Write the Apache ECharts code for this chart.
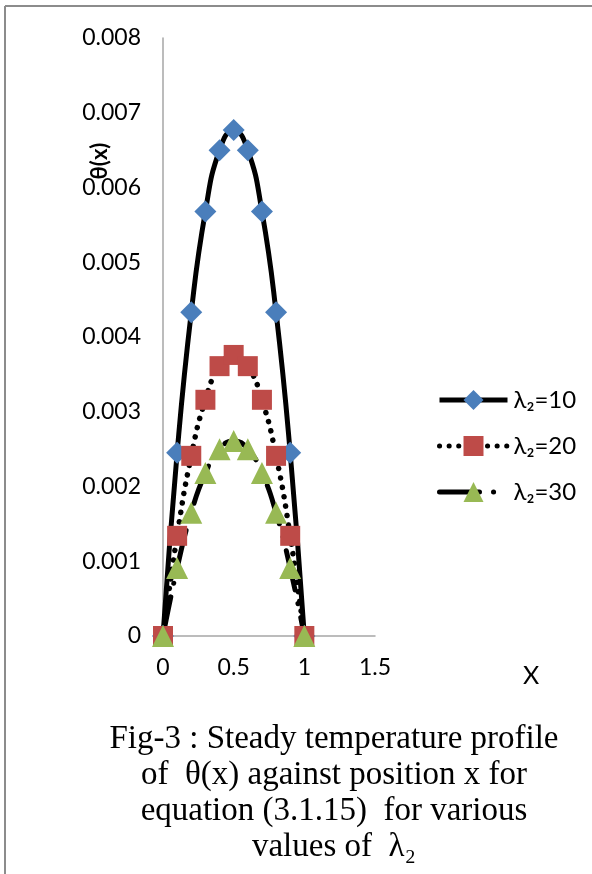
<!DOCTYPE html>
<html>
<head>
<meta charset="utf-8">
<script src="https://cdn.jsdelivr.net/npm/echarts@6/dist/echarts.min.js"></script>
<style>
html,body{margin:0;padding:0;background:#fff;}
#c{width:592px;height:874px;}
</style>
</head>
<body>
<div id="c"></div>
<script>
const xValues = [0, 0.1, 0.2, 0.3, 0.4, 0.5, 0.6, 0.7, 0.8, 0.9, 1.0];
const theta10 = [0, 0.00245, 0.00433, 0.00568, 0.00650, 0.00677, 0.00650, 0.00568, 0.00433, 0.00245, 0];
const theta20 = [0, 0.00134, 0.00241, 0.00316, 0.00361, 0.00376, 0.00361, 0.00316, 0.00241, 0.00134, 0];
const theta30 = [0, 0.00091, 0.00165, 0.00218, 0.00250, 0.00261, 0.00250, 0.00218, 0.00165, 0.00091, 0];
const seriesNames = ['λ₂=10', 'λ₂=20', 'λ₂=30'];
const xTicks = [0, 0.5, 1, 1.5];
const yTicks = [0, 0.001, 0.002, 0.003, 0.004, 0.005, 0.006, 0.007, 0.008];
const captionLines = ['Fig-3 : Steady temperature profile', 'of  θ(x) against position x for', 'equation (3.1.15)  for various', 'values of  λ₂'];

const pair = arr => xValues.map((x, i) => [x, arr[i]]);
const chart = echarts.init(document.getElementById('c'));
const FONT = 'Lato, "Open Sans", sans-serif';

chart.setOption({
  animation: false,
  backgroundColor: '#fff',
  grid: { left: 163, top: 38, right: 217, bottom: 238, containLabel: false },
  xAxis: {
    type: 'value', min: xTicks[0], max: xTicks[xTicks.length - 1], interval: 0.5,
    axisLine: { show: true, lineStyle: { color: '#a6a6a6', width: 1.5 } },
    axisTick: { show: false },
    splitLine: { show: false },
    axisLabel: { color: '#000', fontFamily: FONT, fontSize: 23, margin: 20 }
  },
  yAxis: {
    type: 'value', min: yTicks[0], max: yTicks[yTicks.length - 1], interval: 0.001,
    axisLine: { show: true, lineStyle: { color: '#a6a6a6', width: 1.5 } },
    axisTick: { show: false },
    splitLine: { show: false },
    axisLabel: { color: '#000', fontFamily: FONT, fontSize: 23, margin: 22,
      formatter: v => (v === 0 ? '0' : v.toFixed(3)) }
  },
  legend: {
    orient: 'vertical', left: 432, top: 383,
    itemWidth: 68, itemHeight: 25, itemGap: 22,
    lineStyle: { width: 5 },
    textStyle: { color: '#000', fontFamily: FONT, fontSize: 24, padding: [0, 0, 0, 1] },
    data: seriesNames
  },
  series: [
    {
      name: seriesNames[0], type: 'line', smooth: 0.5, data: pair(theta10),
      symbol: 'diamond', symbolSize: 22,
      itemStyle: { color: '#4a7ebb' },
      lineStyle: { color: '#000', width: 5, type: 'solid' }
    },
    {
      name: seriesNames[1], type: 'line', smooth: 0.5, data: pair(theta20),
      symbol: 'rect', symbolSize: 20,
      itemStyle: { color: '#be4b48' },
      lineStyle: { color: '#000', width: 5.5, type: [0.1, 9.5], cap: 'round' }
    },
    {
      name: seriesNames[2], type: 'line', smooth: 0.5, data: pair(theta30),
      symbol: 'triangle', symbolSize: 22,
      itemStyle: { color: '#98b954' },
      lineStyle: { color: '#000', width: 5, type: [40, 14, 0.1, 14], cap: 'round' }
    }
  ],
  graphic: [
    { type: 'line', shape: { x1: 5, y1: 6, x2: 592, y2: 6 }, style: { stroke: '#8c8c8c', lineWidth: 2 } },
    { type: 'line', shape: { x1: 5, y1: 6, x2: 5, y2: 874 }, style: { stroke: '#8c8c8c', lineWidth: 2 } },
    { type: 'text', x: 100, y: 161, rotation: Math.PI / 2,
      style: { text: 'θ(x)', font: 'bold 22px ' + FONT, fill: '#000', align: 'center', verticalAlign: 'middle' } },
    { type: 'text', x: 531, y: 676,
      style: { text: 'X', font: '25px ' + FONT, fill: '#000', align: 'center', verticalAlign: 'middle' } },
    { type: 'text', x: 334, y: 721,
      style: { text: captionLines.join('\n'), font: '33px "Liberation Serif", "Times New Roman", serif', fill: '#000', align: 'center', verticalAlign: 'top', lineHeight: 36 } }
  ]
});
</script>
</body>
</html>
